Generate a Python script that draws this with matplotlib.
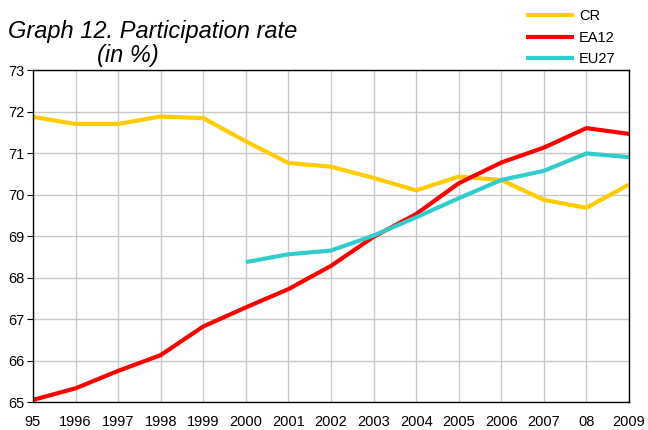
import matplotlib.pyplot as plt
import numpy as np

plt.rcParams['font.family'] = ['Liberation Sans', 'DejaVu Sans']

# Participation rate (%)
years = list(range(1995, 2010))
year_labels = ['95', '1996', '1997', '1998', '1999', '2000', '2001', '2002',
               '2003', '2004', '2005', '2006', '2007', '08', '2009']
cr = [71.87, 71.70, 71.70, 71.88, 71.84, 71.28, 70.76, 70.67, 70.40, 70.10,
      70.43, 70.35, 69.87, 69.68, 70.24]
ea12 = [65.05, 65.33, 65.75, 66.13, 66.82, 67.28, 67.72, 68.28, 68.98, 69.53,
        70.27, 70.77, 71.13, 71.60, 71.46]
eu27_years = list(range(2000, 2010))
eu27 = [68.37, 68.56, 68.65, 69.01, 69.45, 69.91, 70.35, 70.57, 70.99, 70.90]

fig = plt.figure(figsize=(6.48, 4.30), dpi=100)
ax = fig.add_axes([0.0509, 0.0651, 0.9198, 0.7721])

ax.plot(years, cr, color='#FFCC00', lw=3, label='CR', solid_capstyle='butt')
ax.plot(years, ea12, color='#FF0000', lw=3, label='EA12', solid_capstyle='butt')
ax.plot(eu27_years, eu27, color='#33CCCC', lw=3, label='EU27', solid_capstyle='butt')

ax.set_xlim(1995, 2009)
ax.set_ylim(65, 73)
ax.set_xticks(years)
ax.set_xticklabels(year_labels, fontsize=10.5)
ax.set_yticks(np.arange(65, 74, 1))
ax.tick_params(axis='y', labelsize=10.5, length=4, direction='out', pad=2)
ax.tick_params(axis='x', length=0, pad=9.5)
ax.grid(True, color='#C8C8C8', lw=1)
ax.set_axisbelow(True)
for s in ax.spines.values():
    s.set_color('black')
    s.set_linewidth(1)

fig.text(0.012, 0.926, 'Graph 12. Participation rate', fontsize=17, style='italic',
         ha='left', va='center')
fig.text(0.149, 0.87, '(in %)', fontsize=17, style='italic', ha='left', va='center')

ax.legend(loc='upper left', bbox_to_anchor=(0.818, 1.2), frameon=False,
          fontsize=10.5, handlelength=3.3, handletextpad=0.3, labelspacing=0.5,
          borderaxespad=0)

fig.savefig('out.png', dpi=100)
